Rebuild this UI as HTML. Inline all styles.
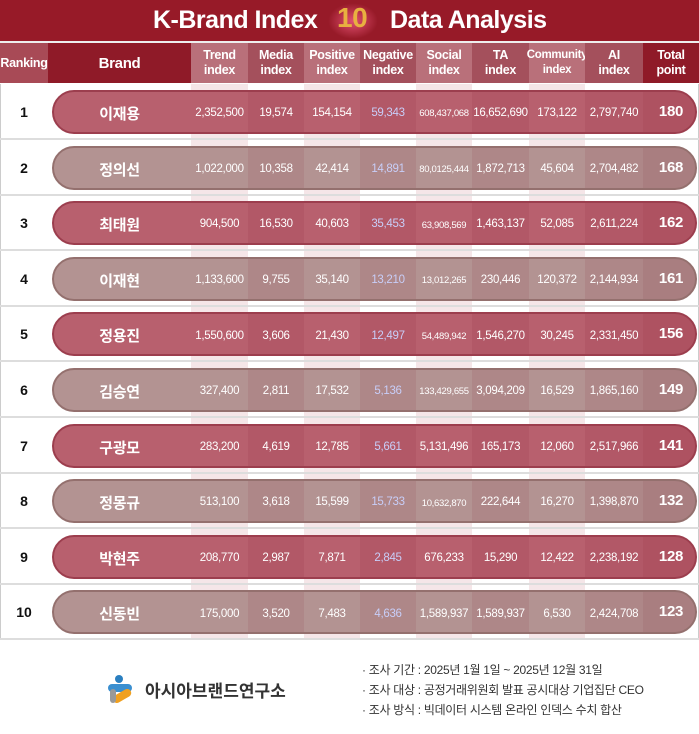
<!DOCTYPE html>
<html><head><meta charset="utf-8"><style>
*{margin:0;padding:0;box-sizing:border-box}
body{width:699px;height:734px;background:#fff;font-family:"Liberation Sans","Noto Sans CJK KR",sans-serif;position:relative;overflow:hidden}
.title{position:absolute;left:0;top:0;width:699px;height:41px;background:#971a28;color:#fff;font-weight:bold;font-size:25px;}
.title span{position:absolute;top:6px;letter-spacing:-0.5px}
.hdr{position:absolute;top:43px;height:40px;color:#fff;font-weight:bold;font-size:12.5px;text-align:center;display:flex;align-items:center;justify-content:center;line-height:15px;letter-spacing:-0.3px}
.stripe{position:absolute;top:84px;height:556px}
.row{position:absolute;left:0;width:699px;height:56px;border-bottom:2px solid #ddd}
.rank{position:absolute;left:0;width:48px;text-align:center;font-size:14px;font-weight:bold;color:#111}
.pill{position:absolute;left:52px;width:645px;height:44px;border-radius:22px;border:2px solid;overflow:hidden}
.ov{position:absolute;top:0;height:44px;background:rgba(110,0,20,0.08)}
.cell{position:absolute;text-align:center;color:#fff;font-size:11px;letter-spacing:-0.3px}
</style></head><body>
<div class="title"><span style="left:153px">K-Brand Index</span>
<div style="position:absolute;left:328px;top:3px;width:50px;height:36px;border-radius:50%/40%;background:radial-gradient(#e05070,#971a28 70%)"></div>
<span style="left:337px;top:2px;color:#e8b040;font-size:28px">10</span>
<span style="left:390px">Data Analysis</span></div>
<div style="position:absolute;top:41px;left:0;width:699px;height:2px;background:#eee"></div>
<div class="hdr" style="left:0;width:48px;background:#a84a56">Ranking</div>
<div class="hdr" style="left:48px;width:143px;background:#8f1a28;font-size:15px">Brand</div>
<div class="hdr" style="left:191px;width:57px;background:#b9707a">Trend<br>index</div>
<div class="hdr" style="left:248px;width:56px;background:#a4505c">Media<br>index</div>
<div class="hdr" style="left:304px;width:56px;background:#b9707a">Positive<br>index</div>
<div class="hdr" style="left:360px;width:56px;background:#a4505c">Negative<br>index</div>
<div class="hdr" style="left:416px;width:56px;background:#b9707a">Social<br>index</div>
<div class="hdr" style="left:472px;width:57px;background:#a4505c">TA<br>index</div>
<div class="hdr" style="left:529px;width:56px;background:#b9707a;font-size:11.5px">Community<br>index</div>
<div class="hdr" style="left:585px;width:58px;background:#a4505c">AI<br>index</div>
<div class="hdr" style="left:643px;width:56px;background:#8f1a28">Total<br>point</div>
<div class="stripe" style="left:191px;width:57px;background:#f5e6e8"></div>
<div class="stripe" style="left:304px;width:56px;background:#f5e6e8"></div>
<div class="stripe" style="left:416px;width:56px;background:#f5e6e8"></div>
<div class="stripe" style="left:529px;width:56px;background:#f5e6e8"></div>
<div style="position:absolute;left:0;top:84px;width:1px;height:556px;background:#ccc"></div>
<div style="position:absolute;left:698px;top:84px;width:1px;height:556px;background:#ccc"></div>
<div id="rows"></div>
<div style="position:absolute;left:106px;top:675px;width:28px;height:28px">
<div style="position:absolute;left:9px;top:0;width:8px;height:8px;border-radius:50%;background:#2a7fc0"></div>
<div style="position:absolute;left:2px;top:9px;width:24px;height:8px;border-radius:4px;background:#3a8fd0"></div>
<div style="position:absolute;left:6px;top:17px;width:20px;height:8px;border-radius:4px;background:#f0a020;transform:rotate(-30deg)"></div>
<div style="position:absolute;left:4px;top:14px;width:6px;height:14px;border-radius:3px;background:#999"></div>
</div>
<div style="position:absolute;left:145px;top:677px;font-size:17px;font-weight:bold;color:#333">아시아브랜드연구소</div>
<div style="position:absolute;left:362px;top:660px;font-size:12px;color:#333;line-height:20px;letter-spacing:-0.3px">· 조사 기간 : 2025년 1월 1일 ~ 2025년 12월 31일<br>· 조사 대상 : 공정거래위원회 발표 공시대상 기업집단 CEO<br>· 조사 방식 : 빅데이터 시스템 온라인 인덱스 수치 합산</div>
<script>
var d=[["1","이재용","2,352,500","19,574","154,154","59,343","608,437,068","16,652,690","173,122","2,797,740","180"],
["2","정의선","1,022,000","10,358","42,414","14,891","80,0125,444","1,872,713","45,604","2,704,482","168"],
["3","최태원","904,500","16,530","40,603","35,453","63,908,569","1,463,137","52,085","2,611,224","162"],
["4","이재현","1,133,600","9,755","35,140","13,210","13,012,265","230,446","120,372","2,144,934","161"],
["5","정용진","1,550,600","3,606","21,430","12,497","54,489,942","1,546,270","30,245","2,331,450","156"],
["6","김승연","327,400","2,811","17,532","5,136","133,429,655","3,094,209","16,529","1,865,160","149"],
["7","구광모","283,200","4,619","12,785","5,661","5,131,496","165,173","12,060","2,517,966","141"],
["8","정몽규","513,100","3,618","15,599","15,733","10,632,870","222,644","16,270","1,398,870","132"],
["9","박현주","208,770","2,987","7,871","2,845","676,233","15,290","12,422","2,238,192","128"],
["10","신동빈","175,000","3,520","7,483","4,636","1,589,937","1,589,937","6,530","2,424,708","123"]];
var cols=[[48,143],[191,57],[248,56],[304,56],[360,56],[416,56],[472,57],[529,56],[585,58],[643,56]];
var h="";
d.forEach(function(r,i){var top=84+i*55.6;var odd=i%2==0;
h+='<div class="row" style="top:'+top+'px"></div>';
h+='<div class="rank" style="top:'+(top+20)+'px">'+r[0]+'</div>';
var ov='';[2,4,6,8].forEach(function(k){ov+='<div class="ov" style="left:'+(cols[k][0]-54)+'px;width:'+cols[k][1]+'px"></div>';});
ov+='<div class="ov" style="left:'+(643-54)+'px;width:60px;background:rgba(110,0,20,0.14)"></div>';
h+='<div class="pill" style="top:'+(top+6)+'px;background:'+(odd?'#b8606e':'#b39392')+';border-color:'+(odd?'#9c3e4e':'#94706e')+'">'+ov+'</div>';
for(var c=0;c<10;c++){var fs=c==0?15:(c==9?15:(c==5&&r[c+1].length>9?9.5:11.5));var col=c==4?'#c8cef8':'#fff';var fw=(c==0||c==9)?'bold':'normal';
var tp=(c==0||c==9)?(top+28-fs*0.6):(top+30-fs*0.6);
h+='<div class="cell" style="left:'+cols[c][0]+'px;width:'+cols[c][1]+'px;top:'+tp+'px;font-size:'+fs+'px;color:'+col+';font-weight:'+fw+'">'+r[c+1]+'</div>';}
});
document.getElementById('rows').innerHTML=h;
</script>
</body></html>
